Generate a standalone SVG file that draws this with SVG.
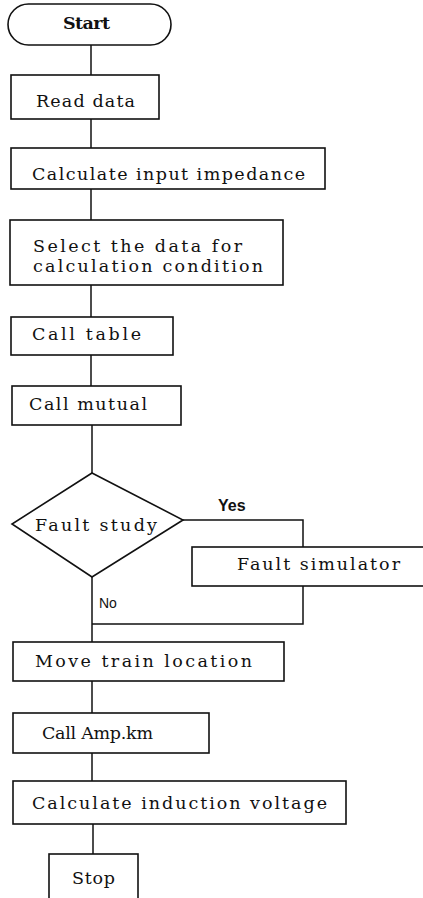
<svg xmlns="http://www.w3.org/2000/svg" width="423" height="898" viewBox="0 0 423 898">
<style>
.box{fill:#fff;stroke:#111;stroke-width:1.6}
.ln{fill:none;stroke:#111;stroke-width:1.5}
.t{font-family:"DejaVu Serif","Liberation Serif",serif;font-size:17.5px;fill:#111}
.lbl{font-family:"Liberation Sans",Arial,sans-serif;fill:#111}
</style>
<rect width="423" height="898" fill="#fff"/>
<g id="connectors">
<polyline class="ln" points="91,45 91,75"/>
<polyline class="ln" points="91,119 91,148"/>
<polyline class="ln" points="91,189 91,220"/>
<polyline class="ln" points="91,285 91,317"/>
<polyline class="ln" points="91,355 91,386"/>
<polyline class="ln" points="92,425 92,473"/>
<polyline class="ln" points="183,520 303,520 303,547"/>
<polyline class="ln" points="303,586 303,624 92,624"/>
<polyline class="ln" points="92,577 92,642"/>
<polyline class="ln" points="92,681 92,713"/>
<polyline class="ln" points="92,753 92,781"/>
<polyline class="ln" points="93,824 93,854"/>
<text class="lbl" x="218" y="511" font-size="16" font-weight="bold">Yes</text>
<text class="lbl" x="99" y="608" font-size="14">No</text>
</g>
<g id="start">
<rect class="box" x="8" y="4" width="163" height="41" rx="20.5"/>
<text class="t" x="63" y="29" textLength="47" lengthAdjust="spacing" font-weight="bold">Start</text>
</g>
<g id="read-data">
<rect class="box" x="11" y="75" width="148" height="44"/>
<text class="t" x="36" y="107" textLength="99" lengthAdjust="spacing">Read data</text>
</g>
<g id="calc-input">
<rect class="box" x="11" y="148" width="314" height="41"/>
<text class="t" x="32" y="180" textLength="273" lengthAdjust="spacing">Calculate input impedance</text>
</g>
<g id="select">
<rect class="box" x="10" y="220" width="273" height="65"/>
<text class="t" x="33" y="252" textLength="209" lengthAdjust="spacing">Select the data for</text>
<text class="t" x="33" y="272" textLength="230" lengthAdjust="spacing">calculation condition</text>
</g>
<g id="call-table">
<rect class="box" x="11" y="317" width="162" height="38"/>
<text class="t" x="32" y="340" textLength="109" lengthAdjust="spacing">Call table</text>
</g>
<g id="call-mutual">
<rect class="box" x="12" y="386" width="169" height="39"/>
<text class="t" x="29" y="410" textLength="118" lengthAdjust="spacing">Call mutual</text>
</g>
<g id="fault-study">
<polygon class="box" points="92,473 183,520 92,577 12,524"/>
<text class="t" x="35" y="531" textLength="122" lengthAdjust="spacing">Fault study</text>
</g>
<g id="fault-sim">
<rect class="box" x="192" y="547" width="240" height="39"/>
<text class="t" x="237" y="570" textLength="163" lengthAdjust="spacing">Fault simulator</text>
</g>
<g id="move-train">
<rect class="box" x="13" y="642" width="271" height="39"/>
<text class="t" x="35" y="667" textLength="217" lengthAdjust="spacing">Move train location</text>
</g>
<g id="call-amp">
<rect class="box" x="13" y="713" width="196" height="40"/>
<text class="t" x="42" y="739" textLength="111" lengthAdjust="spacing">Call Amp.km</text>
</g>
<g id="calc-induction">
<rect class="box" x="13" y="781" width="333" height="43"/>
<text class="t" x="32" y="809" textLength="295" lengthAdjust="spacing">Calculate induction voltage</text>
</g>
<g id="stop">
<rect class="box" x="49" y="854" width="89" height="50"/>
<text class="t" x="72" y="884" textLength="43" lengthAdjust="spacing">Stop</text>
</g>
</svg>
